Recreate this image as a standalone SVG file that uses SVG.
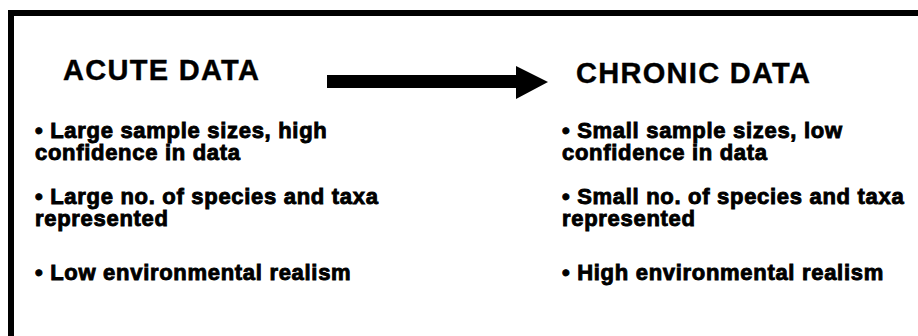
<svg xmlns="http://www.w3.org/2000/svg" width="918" height="336" viewBox="0 0 918 336">
  <style>
    .head { font-family: "Liberation Sans", Arial, sans-serif; font-weight: bold; font-size: 29px; letter-spacing: 1.3px; fill: #000; stroke: #000; stroke-width: 0.4px; }
    .body { font-family: "Liberation Sans", Arial, sans-serif; font-weight: bold; font-size: 22px; letter-spacing: 0.7px; fill: #000; stroke: #000; stroke-width: 0.9px; }
    .frame { fill: none; stroke: #000; stroke-width: 6; }
  </style>
  <rect x="0" y="0" width="918" height="336" fill="#fff"/>
  <path class="frame" d="M11,336 V13 H918"/>
  <g id="acute">
    <text class="head" x="63" y="80">ACUTE DATA</text>
    <text class="body" x="35" y="138">• Large sample sizes, high</text>
    <text class="body" x="35" y="160">confidence in data</text>
    <text class="body" x="35" y="204">• Large no. of species and taxa</text>
    <text class="body" x="35" y="226">represented</text>
    <text class="body" x="35" y="280">• Low environmental realism</text>
  </g>
  <g id="chronic">
    <text class="head" x="576" y="83">CHRONIC DATA</text>
    <text class="body" x="562" y="138">• Small sample sizes, low</text>
    <text class="body" x="562" y="160">confidence in data</text>
    <text class="body" x="562" y="204">• Small no. of species and taxa</text>
    <text class="body" x="562" y="226">represented</text>
    <text class="body" x="562" y="280">• High environmental realism</text>
  </g>
  <g id="connectors">
    <path d="M327,75 H516 V66 L548,82 L516,99 V88 H327 Z" fill="#000"/>
  </g>
</svg>
